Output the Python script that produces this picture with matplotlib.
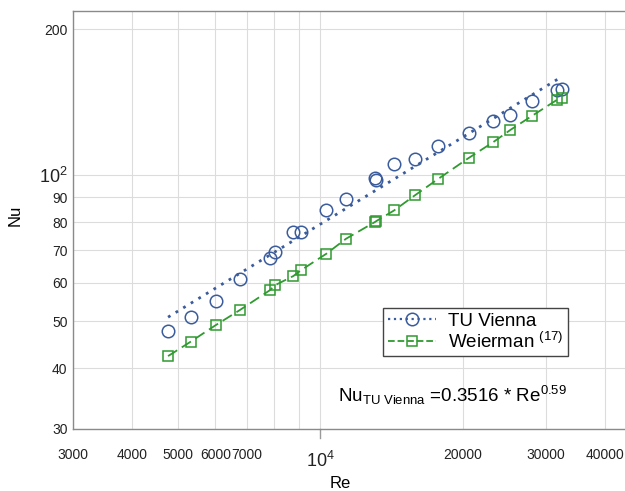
import matplotlib
matplotlib.use("Agg")
import matplotlib.pyplot as plt
import matplotlib.transforms as mtransforms
from matplotlib.lines import Line2D

plt.rcParams['font.family'] = ['Liberation Sans', 'DejaVu Sans']
plt.rcParams['mathtext.fontset'] = 'custom'
plt.rcParams['mathtext.rm'] = 'Liberation Sans'
plt.rcParams['mathtext.it'] = 'Liberation Sans'

# Reynolds numbers (shared by both series)
re = [4766, 5321, 6010, 6750, 7813, 8040, 8774, 9120, 10300, 11340,
      13050, 13150, 14320, 15850, 17710, 20590, 23240, 25240, 28060, 31700, 32400]

# TU Vienna measurements
nu_tu = [47.7, 51.0, 55.1, 61.1, 67.6, 69.5, 76.5, 76.3, 85.0, 89.2,
         98.5, 97.7, 105.4, 108.0, 114.8, 122.2, 129.4, 133.2, 142.4, 150.1, 150.3]

# Weierman correlation
nu_wei = [42.4, 45.4, 49.1, 52.7, 57.9, 59.4, 62.0, 63.8, 68.9, 74.0,
          80.1, 80.5, 84.6, 90.9, 98.1, 108.5, 117.1, 124.0, 132.6, 143.1, 144.5]

# fit line end points Nu = 0.3516 * Re^0.59
fit_re = [4766, 32200]
fit_nu = [51.0, 159.0]

xticks = [3000, 4000, 5000, 6000, 7000, 8000, 9000, 10000, 20000, 30000, 40000]
xlabels = ['3000', '4000', '5000', '6000', '7000', '', '', '$10^4$', '20000', '30000', '40000']
yticks = [30, 40, 50, 60, 70, 80, 90, 100, 200]
ylabels = ['30', '40', '50', '60', '70', '80', '90', '$10^2$', '200']

blue = '#3a5c9c'
green = '#2f9a2f'

fig = plt.figure(figsize=(6.25, 4.91), dpi=100)
ax = fig.add_axes([73/625, 62/491, 552/625, 418/491])

ax.set_xscale('log')
ax.set_yscale('log')
ax.set_xlim(3000, 44100)
ax.set_ylim(30, 218)

ax.plot(fit_re, fit_nu, ls=':', color=blue, lw=2, dashes=(1, 2.2))
ax.plot(re, nu_tu, ls='none', marker='o', ms=9, mfc='none', mec=blue, mew=1.1)
ax.plot(re, nu_wei, ls='--', dashes=(6, 3), color=green, lw=1.3,
        marker='s', ms=7.5, mfc='none', mec=green, mew=1.1)

ax.xaxis.set_minor_locator(matplotlib.ticker.NullLocator())
ax.yaxis.set_minor_locator(matplotlib.ticker.NullLocator())
ax.set_xticks(xticks)
ax.set_xticklabels(xlabels)
ax.set_yticks(yticks)
ax.set_yticklabels(ylabels)
ax.tick_params(axis='both', length=0, labelsize=10, colors='#222222')
ax.tick_params(axis='x', pad=14)
ax.tick_params(axis='y', pad=4)
down = mtransforms.ScaledTranslation(0, -2/72, fig.dpi_scale_trans)
for lab in ax.get_xticklabels():
    if '10^4' in lab.get_text():
        lab.set_fontsize(13)
        lab.set_transform(lab.get_transform() + down)
for lab in ax.get_yticklabels():
    if '10^2' in lab.get_text():
        lab.set_fontsize(13)

ax.grid(True, color='#dcdcdc', lw=0.8)
ax.set_axisbelow(True)
for s in ['left', 'bottom', 'top']:
    ax.spines[s].set_color('#8a8a8a')
    ax.spines[s].set_linewidth(1.0)
ax.spines['right'].set_visible(False)

# small tick below the 10^4 grid line
ax.plot([10000, 10000], [30, 28.8], color='#9a9a9a', lw=1, clip_on=False)

fig.text(340/625, 1 - 483/491, 'Re', ha='center', va='center', fontsize=12)
fig.text(15/625, 1 - 215/491, 'Nu', ha='center', va='center', fontsize=12, rotation=90)

handles = [
    Line2D([], [], ls=':', color=blue, lw=1.6, marker='o', ms=9, mfc='none', mec=blue, mew=1.1),
    Line2D([], [], ls='--', color=green, lw=1.3, marker='s', ms=7.5, mfc='none', mec=green, mew=1.1),
]
leg = ax.legend(handles, ['TU Vienna', 'Weierman $^{(17)}$'], fontsize=13.5,
                loc='upper left', bbox_to_anchor=((383 - 73)/552, 1 - (308 - 11)/418),
                borderaxespad=0, fancybox=False, framealpha=1, edgecolor='#444444',
                handlelength=2.6, borderpad=0.25, labelspacing=0.1, handletextpad=0.6)
leg.get_frame().set_linewidth(1.0)

fig.text(338/625, 1 - 395/491, r'Nu$_{\mathrm{TU\ Vienna}}$ =0.3516 * Re$^{0.59}$',
         ha='left', va='center', fontsize=13.5)

fig.savefig('out.png', dpi=100)
